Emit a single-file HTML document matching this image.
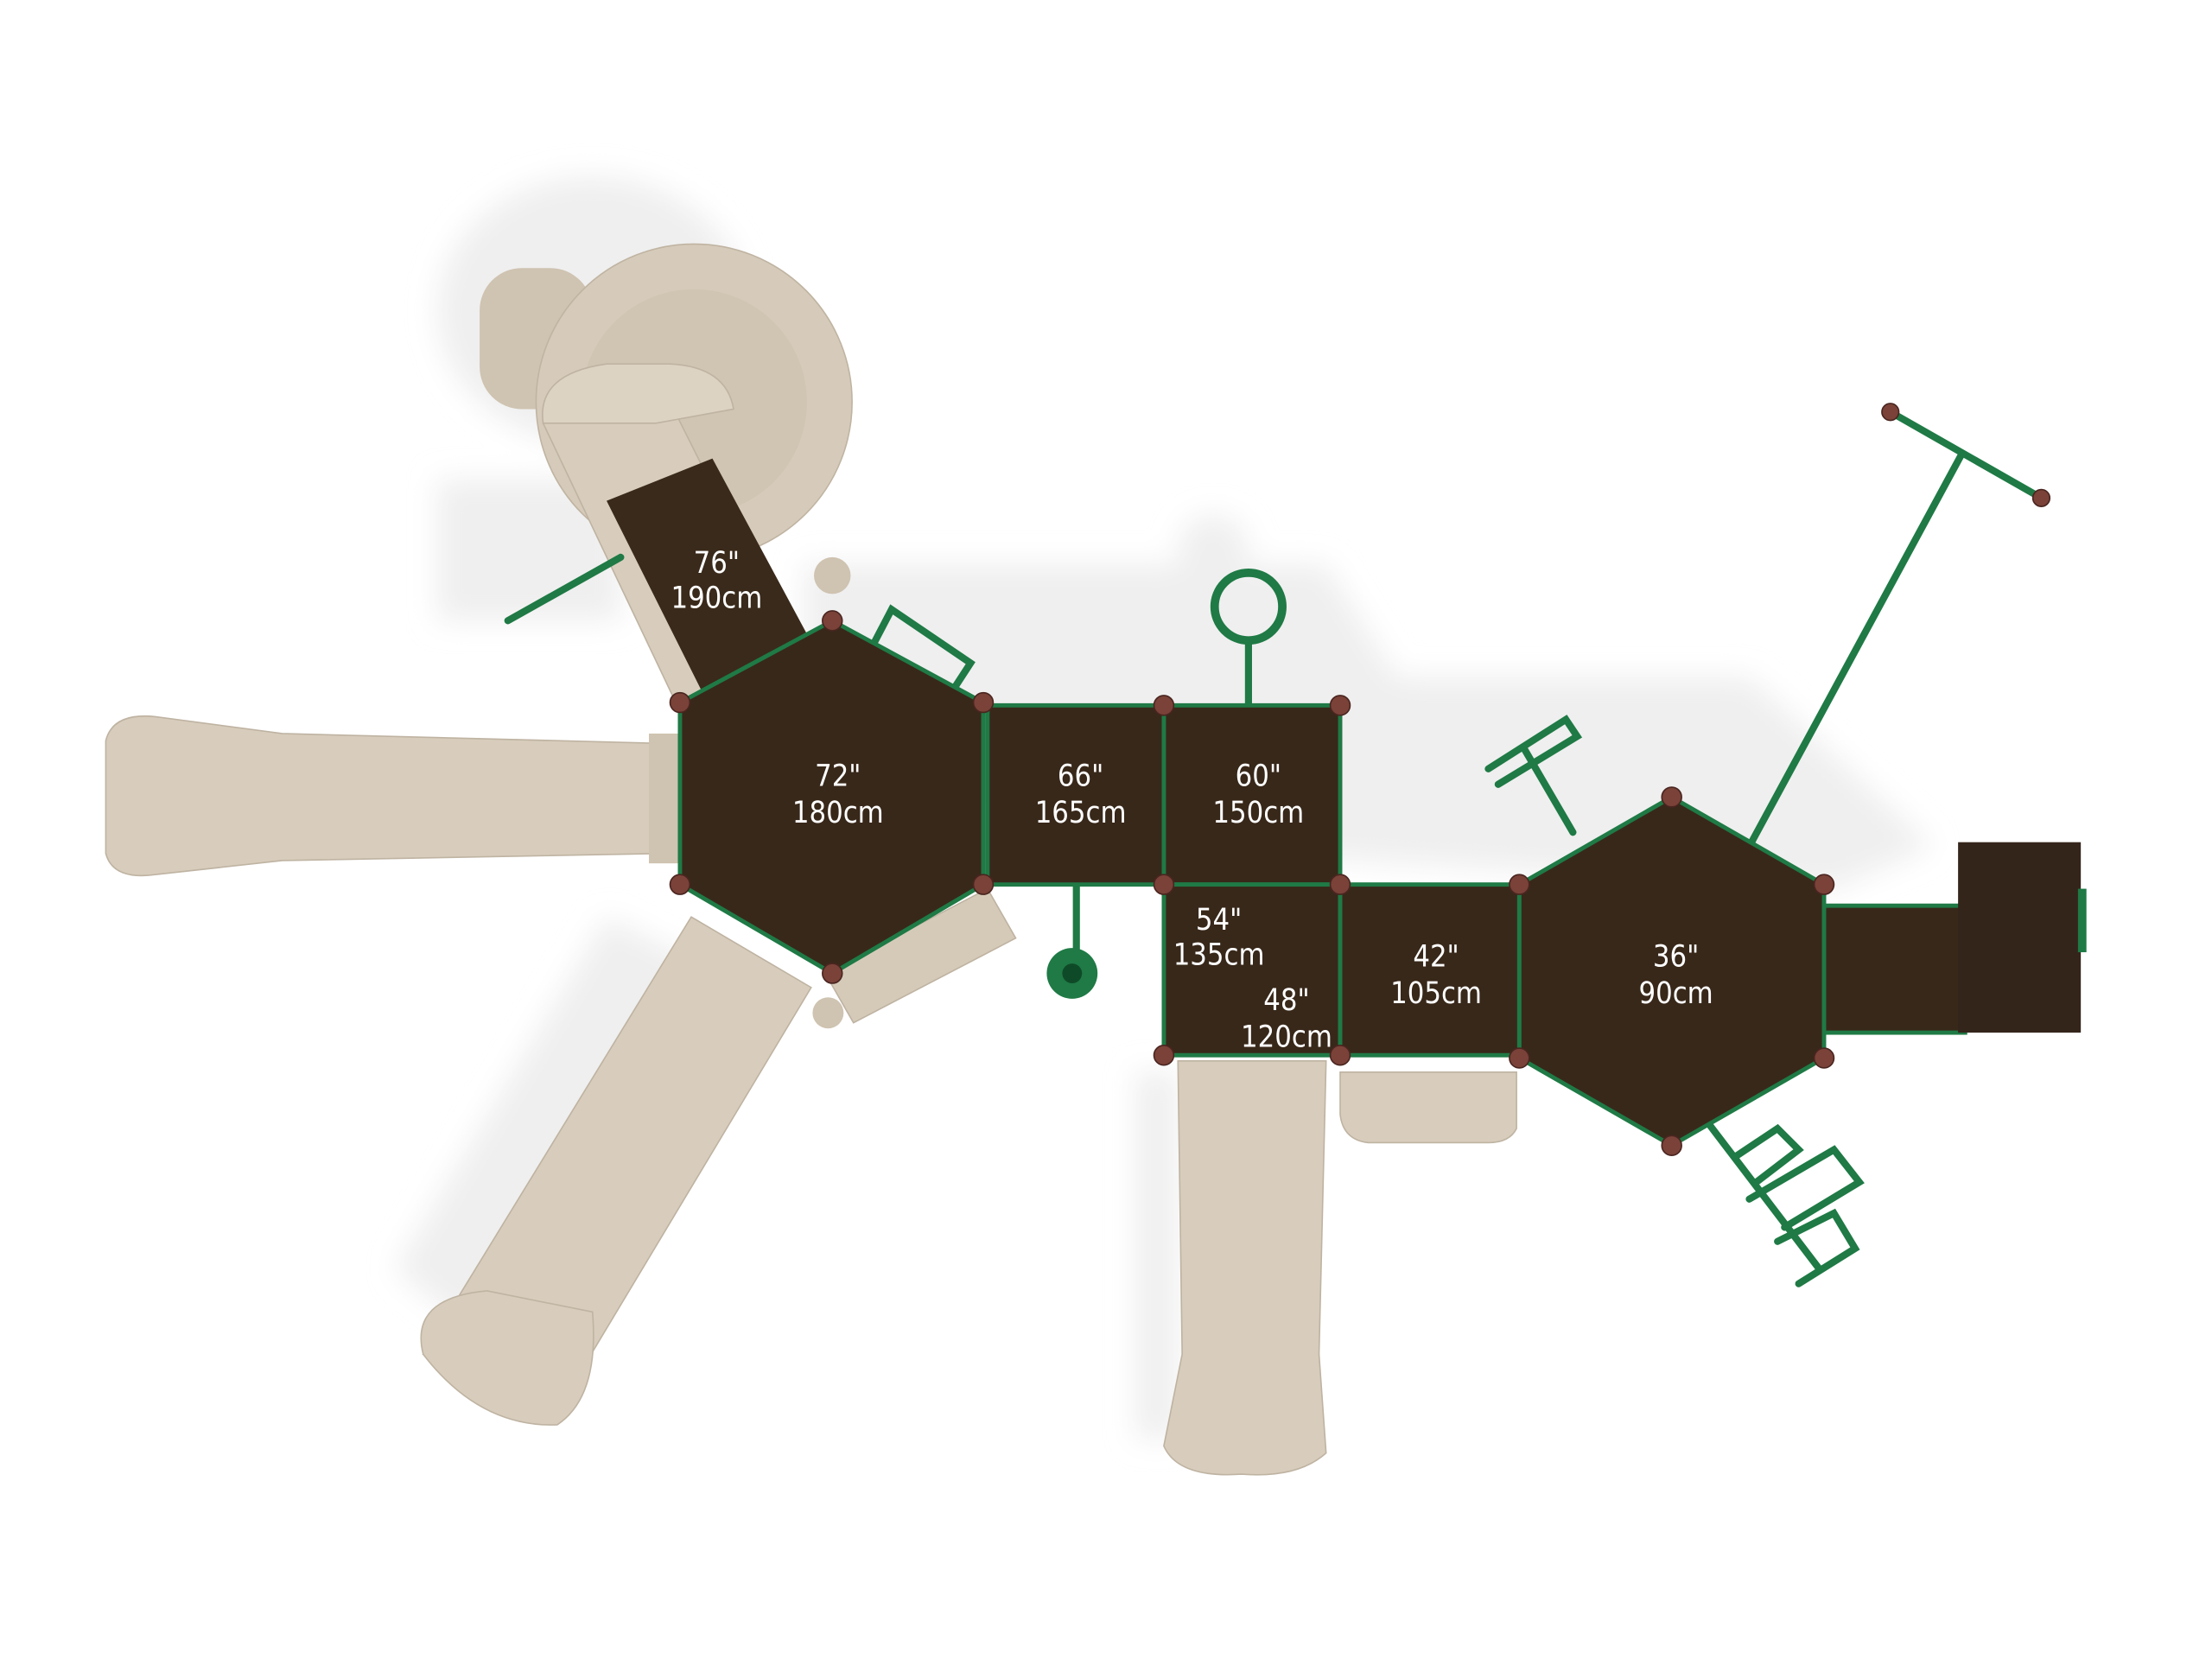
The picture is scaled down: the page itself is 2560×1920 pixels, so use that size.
<!DOCTYPE html>
<html><head><style>html,body{margin:0;padding:0;background:#fff}svg{display:block}</style></head>
<body>
<svg width="2560" height="1920" viewBox="0 0 1568 1176" xmlns="http://www.w3.org/2000/svg">
<defs><filter id="b"><feGaussianBlur stdDeviation="10"/></filter></defs>
<rect width="1568" height="1176" fill="#fff"/>
<!-- shadows -->
<g fill="#efefef" filter="url(#b)">
<ellipse cx="420" cy="220" rx="110" ry="95"/>
<rect x="310" y="340" width="130" height="100"/>
<polygon points="570,400 940,400 990,480 1240,480 1370,600 1300,630 960,610 700,590 570,500"/>
<ellipse cx="860" cy="390" rx="25" ry="25"/>
<polygon points="430,650 530,700 330,940 280,900"/>
<rect x="805" y="760" width="30" height="260"/>
</g>
<!-- left horizontal slide -->
<path d="M75,525 Q80,505 110,508 L200,520 L470,527 L470,605 L200,610 L110,620 Q80,624 75,605 Z" fill="#d8cdbc" stroke="#bfb3a2"/>
<rect x="460" y="520" width="28" height="92" fill="#cfc3b1"/>
<!-- spiral slide -->
<rect x="340" y="190" width="80" height="100" rx="30" fill="#cfc3b1"/>
<circle cx="492" cy="285" r="112" fill="#d6cbba" stroke="#c0b4a2"/>
<circle cx="492" cy="285" r="80" fill="#d0c4b2"/>
<polygon points="385,300 465,265 560,455 480,500" fill="#d8cdbc" stroke="#bfb3a2"/>
<path d="M385,300 Q380,265 430,258 L475,258 Q515,260 520,290 L465,300 Z" fill="#ddd3c3" stroke="#bfb3a2"/>
<polygon points="430,355 505,325 575,455 500,495" fill="#3a2a1b"/>
<!-- bottom-left slide -->
<polygon points="490,650 575,700 410,975 300,960" fill="#d8cdbc" stroke="#bfb3a2"/>
<path d="M300,960 Q290,920 345,915 L420,930 Q425,990 395,1010 Q340,1012 300,960 Z" fill="#d8cdbc" stroke="#bfb3a2"/>
<!-- bottom middle slide -->
<path d="M835,752 L940,752 L935,960 L940,1030 Q920,1048 880,1045 Q835,1048 825,1025 L838,960 Z" fill="#d8cdbc" stroke="#bfb3a2"/>
<path d="M950,760 L1075,760 L1075,800 Q1070,810 1055,810 L970,810 Q952,808 950,790 Z" fill="#d8cdbc" stroke="#bfb3a2"/>
<!-- stairs near 72 -->
<polygon points="585,690 700,630 720,665 605,725" fill="#d5cab8" stroke="#bfb3a2"/>
<!-- green parts -->
<g stroke="#1f7a45" stroke-width="5" fill="none" stroke-linecap="round">
<line x1="360" y1="440" x2="440" y2="395"/>
<polyline points="620,455 632,432 688,470 675,490"/>
<line x1="1240" y1="600" x2="1390" y2="323"/>
<line x1="1340" y1="292" x2="1447" y2="353"/>
<line x1="1115" y1="590" x2="1080" y2="530"/>
<polyline points="1055,545 1110,510 1118,522 1062,556"/>
<line x1="1210" y1="795" x2="1290" y2="900"/>
<polyline points="1230,820 1260,800 1275,815 1245,838"/>
<polyline points="1240,850 1300,815 1318,838 1265,870"/>
<polyline points="1260,880 1300,860 1315,885 1275,910"/>
<line x1="885" y1="455" x2="885" y2="500"/>
<line x1="763" y1="627" x2="763" y2="680"/>
</g>
<circle cx="885" cy="430" r="24" fill="none" stroke="#1f7a45" stroke-width="6"/>
<circle cx="760" cy="690" r="18" fill="#1f7a45"/><circle cx="760" cy="690" r="7" fill="#0f4a28"/>
<circle cx="590" cy="408" r="13" fill="#cfc3b1"/>
<circle cx="587" cy="718" r="11" fill="#cfc3b1"/>
<!-- platforms -->
<g fill="#38281a" stroke="#1f7a45" stroke-width="3">
<polygon points="590,440 697,498 697,627 590,690 482,627 482,498"/>
<rect x="700" y="500" width="125" height="127"/>
<rect x="825" y="500" width="125" height="127"/>
<rect x="825" y="627" width="125" height="121"/>
<rect x="950" y="627" width="127" height="121"/>
<polygon points="1185,565 1293,627 1293,750 1185,812 1077,750 1077,627"/>
<rect x="1293" y="642" width="100" height="90"/>
</g>
<rect x="1388" y="597" width="87" height="135" fill="#34251a"/>
<rect x="1473" y="630" width="6" height="45" fill="#1f7a45"/>
<!-- posts -->
<g fill="#7a4238" stroke="#4a2520" stroke-width="1">
<circle cx="590" cy="440" r="7"/><circle cx="482" cy="498" r="7"/><circle cx="697" cy="498" r="7"/>
<circle cx="482" cy="627" r="7"/><circle cx="697" cy="627" r="7"/><circle cx="590" cy="690" r="7"/>
<circle cx="825" cy="500" r="7"/><circle cx="950" cy="500" r="7"/><circle cx="825" cy="627" r="7"/>
<circle cx="950" cy="627" r="7"/><circle cx="825" cy="748" r="7"/><circle cx="950" cy="748" r="7"/>
<circle cx="1077" cy="627" r="7"/><circle cx="1077" cy="750" r="7"/><circle cx="1185" cy="565" r="7"/>
<circle cx="1293" cy="627" r="7"/><circle cx="1293" cy="750" r="7"/><circle cx="1185" cy="812" r="7"/>
<circle cx="1340" cy="292" r="6"/><circle cx="1447" cy="353" r="6"/>
</g>
<!-- labels -->
<g fill="#fff" font-family="'DejaVu Sans Condensed','Liberation Sans Narrow','Liberation Sans',sans-serif" font-size="21" text-anchor="middle">
<text x="508" y="406">76"</text><text x="508" y="431">190cm</text>
<text x="594" y="557">72"</text><text x="594" y="583">180cm</text>
<text x="766" y="557">66"</text><text x="766" y="583">165cm</text>
<text x="892" y="557">60"</text><text x="892" y="583">150cm</text>
<text x="864" y="659">54"</text><text x="864" y="684">135cm</text>
<text x="912" y="716">48"</text><text x="912" y="742">120cm</text>
<text x="1018" y="685">42"</text><text x="1018" y="711">105cm</text>
<text x="1188" y="685">36"</text><text x="1188" y="711">90cm</text>
</g>
</svg>
</body></html>
